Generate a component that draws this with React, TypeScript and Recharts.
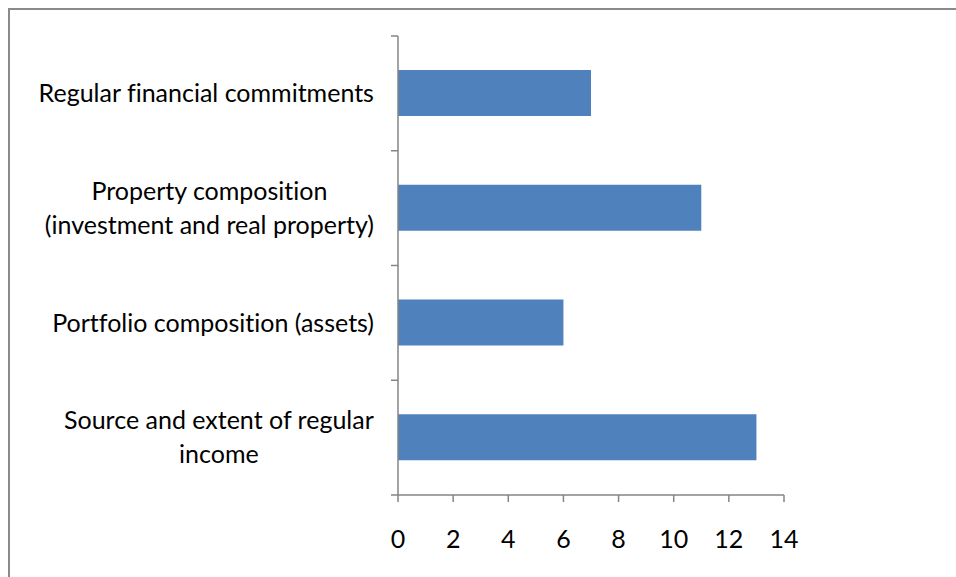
import React from 'react';
import { BarChart, Bar, XAxis, YAxis } from 'recharts';

const categories = [
  'Regular financial commitments',
  'Property composition\n(investment and real property)',
  'Portfolio composition (assets)',
  'Source and extent of regular\nincome',
];
const counts = [7, 11, 6, 13];
const xTicks = [0, 2, 4, 6, 8, 10, 12, 14];

const data = categories.map((c, i) => ({ category: c, value: counts[i] }));

const FONT = 'Lato';
const FS = 25;
const AXIS = '#858585';
const AXIS_W = 1.5;
const BAR = '#4F81BD';

const CHART_W = 946;
const CHART_H = 567;
const MARGIN = { top: 26, right: 172, bottom: 22, left: 0 };
const X_AXIS_H = 60;
const Y_AXIS_W = 388;
const Y_TICK_MARGIN = 24;
const Y_TICK_LEN = 7;

let ctx: CanvasRenderingContext2D | null = null;
function measure(t: string): number {
  if (!ctx) ctx = document.createElement('canvas').getContext('2d');
  if (!ctx) return t.length * FS * 0.5;
  ctx.font = `${FS}px ${FONT}`;
  return ctx.measureText(t).width;
}

function CatTick(props: any) {
  const { x, y, payload, index, visibleTicksCount } = props;
  const lines = String(payload.value).split('\n');
  const maxW = Math.max(...lines.map(measure));
  const cx = x - maxW / 2;
  const lh = 34;
  const start = y - ((lines.length - 1) * lh) / 2;
  const plotH = CHART_H - MARGIN.top - MARGIN.bottom - X_AXIS_H;
  const half =
    typeof payload.offset === 'number' && payload.offset > 0
      ? payload.offset
      : plotH / categories.length / 2;
  const axisX = x + Y_TICK_MARGIN;
  const isLast = index === (visibleTicksCount ?? categories.length) - 1;
  return (
    <g>
      <line
        x1={axisX - Y_TICK_LEN}
        x2={axisX}
        y1={y - half}
        y2={y - half}
        stroke={AXIS}
        strokeWidth={AXIS_W}
      />
      {isLast && (
        <line
          x1={axisX - Y_TICK_LEN}
          x2={axisX}
          y1={y + half}
          y2={y + half}
          stroke={AXIS}
          strokeWidth={AXIS_W}
        />
      )}
      <text
        x={cx}
        y={start}
        textAnchor="middle"
        fontFamily={FONT}
        fontSize={FS}
        fill="#000"
        style={{ fontVariantLigatures: 'none' }}
      >
        {lines.map((l, i) => (
          <tspan key={i} x={cx} y={start + i * lh} dy="0.35em">
            {l}
          </tspan>
        ))}
      </text>
    </g>
  );
}

export default function App() {
  return (
    <div
      style={{
        position: 'fixed',
        left: 8,
        top: 8,
        width: 948,
        height: 569,
        borderLeft: '2px solid #8a8a8a',
        borderTop: '2px solid #8a8a8a',
        boxSizing: 'border-box',
        overflow: 'hidden',
        background: '#fff',
      }}
    >
      <BarChart width={CHART_W} height={CHART_H} data={data} layout="vertical" margin={MARGIN}>
        <XAxis
          type="number"
          domain={[0, 14]}
          ticks={xTicks}
          interval={0}
          tickSize={7}
          tickMargin={28}
          height={X_AXIS_H}
          axisLine={{ stroke: AXIS, strokeWidth: AXIS_W }}
          tickLine={{ stroke: AXIS, strokeWidth: AXIS_W }}
          tick={{ fill: '#000', fontFamily: FONT, fontSize: FS }}
        />
        <YAxis
          type="category"
          dataKey="category"
          width={Y_AXIS_W}
          axisLine={{ stroke: AXIS, strokeWidth: AXIS_W }}
          tickLine={false}
          tickSize={0}
          tickMargin={Y_TICK_MARGIN}
          interval={0}
          tick={<CatTick />}
        />
        <Bar dataKey="value" fill={BAR} barSize={46} isAnimationActive={false} />
      </BarChart>
    </div>
  );
}
